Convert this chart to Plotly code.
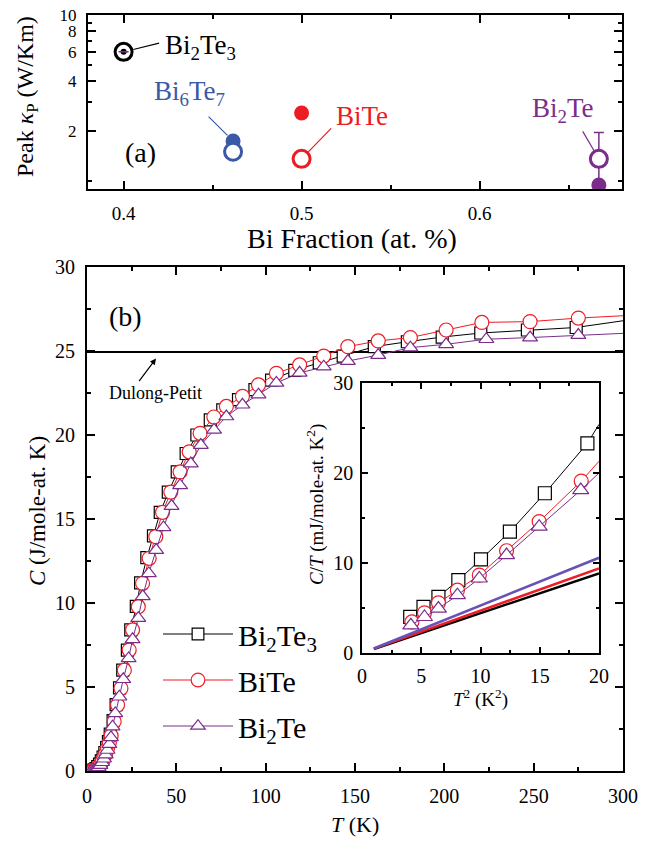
import math
import plotly.graph_objects as go

# ---------------- data ----------------
# panel (a): peak phonon thermal conductivity vs Bi fraction
COMPOUNDS_A = ["Bi<sub>2</sub>Te<sub>3</sub>", "Bi<sub>6</sub>Te<sub>7</sub>", "BiTe", "Bi<sub>2</sub>Te"]
BI_FRAC = [0.4, 0.4615, 0.5, 0.667]
KAPPA_OPEN = [6.0, 1.50, 1.36, 1.36]
KAPPA_FILLED = [6.0, 1.74, 2.57, 0.946]
KAPPA_ERR_PLUS = [None, None, None, 0.60]
KAPPA_ERR_MINUS = [None, None, None, 0.42]
COLORS_A = ["#000000", "#3a5aa8", "#ec1c24", "#7b2d8a"]

# panel (b): heat capacity vs T
T_BI2TE3 = [2.2, 3, 4, 5, 6, 7, 8, 9, 10, 11, 12, 13, 14.6, 16.3, 18.2, 20.0, 22.6, 24.5, 27.6, 30.0,
            33.5, 37.2, 41.0, 45.5, 50.5, 55.5, 61.5, 69, 76, 84.8, 94, 103.3, 116.3, 130, 143.4,
            160.8, 179.3, 198.8, 220.4, 246.5, 273.8, 300]
C_BI2TE3 = [0.01, 0.03, 0.07, 0.15, 0.26, 0.41, 0.6, 0.83, 1.1, 1.4, 1.75, 2.2, 3.0, 3.95, 4.95, 6.0, 7.2,
            8.4, 9.8, 11.2, 12.7, 14.0, 15.4, 16.6, 17.8, 18.9, 20.0, 20.9, 21.5, 22.1, 22.7, 23.27, 23.85,
            24.3, 24.7, 25.26, 25.55, 25.83, 26.07, 26.25, 26.4, 26.8]

T_BITE = [2.5, 3.5, 4.5, 5.5, 6.5, 7.5, 8.5, 9.5, 10.5, 11.5, 12.5, 13.5, 15.2, 17.1, 19.0, 20.9, 23.6,
          25.5, 28.7, 31.1, 34.8, 38.5, 42.3, 46.9, 52.1, 57.2, 63.3, 71, 78, 87, 96, 106, 119, 132.5,
          146, 163, 181, 201, 221, 248, 275, 300]
C_BITE = [0.01, 0.035, 0.08, 0.15, 0.25, 0.39, 0.57, 0.8, 1.06, 1.36, 1.7, 2.1, 2.95, 3.93, 4.92, 6.0,
          7.2, 8.4, 9.78, 11.17, 12.66, 13.95, 15.4, 16.6, 17.8, 19.0, 20.1, 21.07, 21.7, 22.3, 22.98,
          23.67, 24.17, 24.7, 25.26, 25.6, 25.8, 26.25, 26.7, 26.75, 26.96, 27.1]

T_BI2TE = [2.5, 3.5, 4.5, 5.5, 6.5, 7.5, 8.5, 9.5, 10.5, 11.5, 12.5, 13.4, 14.3, 15.8, 18.1, 20.3, 23.3,
           25.5, 28.7, 31.2, 34.6, 38.7, 42.8, 47.3, 52.1, 58.1, 63.7, 71.1, 78, 87, 96, 106, 119,
           132.5, 146, 163, 181, 201, 223.5, 248, 275, 300]
C_BI2TE = [0.01, 0.03, 0.07, 0.13, 0.22, 0.35, 0.52, 0.73, 0.97, 1.25, 1.6, 2.0, 2.64, 3.43, 4.42, 5.46,
           6.7, 7.84, 9.1, 10.4, 11.76, 13.15, 14.5, 15.77, 17.0, 18.3, 19.4, 20.3, 21.1, 21.8, 22.4,
           23.1, 23.7, 24.07, 24.4, 24.76, 25.2, 25.4, 25.7, 25.8, 25.95, 26.05]

DULONG_PETIT = 24.94
DP_T = [0, 300]

# inset: C/T vs T^2
T2_BI2TE3 = [4.07, 5.19, 6.45, 8.13, 10.04, 12.48, 15.43, 19.02, 20.0]
CT_BI2TE3 = [4.01, 5.12, 6.24, 8.1, 10.4, 13.48, 17.75, 23.3, 25.4]
T2_BITE = [4.21, 5.27, 6.45, 8.05, 9.9, 12.2, 14.95, 18.5, 20.0]
CT_BITE = [3.45, 4.46, 5.57, 6.98, 8.65, 11.36, 14.6, 19.1, 21.3]
T2_BI2TE = [4.12, 5.27, 6.45, 8.05, 9.9, 12.2, 14.95, 18.46, 20.0]
CT_BI2TE = [3.08, 4.0, 4.94, 6.42, 8.28, 10.88, 14.04, 18.1, 20.0]
FIT_T2 = [1, 20]
FIT_BI2TE3 = [0.45, 8.84]
FIT_BITE = [0.48, 9.39]
FIT_BI2TE = [0.5, 10.58]

# ---------------- styling ----------------
PAGE_W, PAGE_H = 651, 845
OFF = 8                      # default page margin around the figure div
W, H = PAGE_W - 2 * OFF, PAGE_H - 2 * OFF
SERIF = "Liberation Serif"
BLACK, RED, PURPLE, FITPURPLE = "#000000", "#ee1c24", "#7b2d8a", "#6a52b4"


def px(x):
    return (x - OFF) / W


def py(y):
    return 1 - (y - OFF) / H


def with_end(n, size):
    # marker on every point except the last (line continues to the panel edge)
    return [size] * (n - 1) + [0]


fig = go.Figure()

# ---- panel (a)
fig.add_trace(go.Scatter(
    x=BI_FRAC, y=KAPPA_FILLED, mode="markers", xaxis="x", yaxis="y", showlegend=False,
    marker=dict(symbol="circle", size=[6, 15, 15, 15], color=COLORS_A, opacity=1, line=dict(width=0)),
))
fig.add_trace(go.Scatter(
    x=BI_FRAC, y=KAPPA_OPEN, mode="markers", xaxis="x", yaxis="y", showlegend=False,
    marker=dict(symbol="circle", size=17, opacity=1, color=["rgba(0,0,0,0)", "white", "white", "white"],
                line=dict(width=3, color=COLORS_A)),
    error_y=dict(type="data", array=KAPPA_ERR_PLUS, arrayminus=KAPPA_ERR_MINUS, symmetric=False,
                 color=COLORS_A[3], thickness=1.5, width=5),
))

# ---- panel (b) main
fig.add_trace(go.Scatter(
    x=DP_T, y=[DULONG_PETIT] * len(DP_T), mode="lines", xaxis="x2", yaxis="y2", showlegend=False,
    line=dict(color=BLACK, width=2),
))
series = [
    ("Bi<sub>2</sub>Te<sub>3</sub>", T_BI2TE3, C_BI2TE3, BLACK, "square", 12),
    ("BiTe", T_BITE, C_BITE, RED, "circle", 14),
    ("Bi<sub>2</sub>Te", T_BI2TE, C_BI2TE, PURPLE, "triangle-up", 13),
]
for i, (name, tx, cy, col, sym, sz) in enumerate(series):
    fig.add_trace(go.Scatter(
        x=tx, y=cy, mode="lines+markers", name=name, legendgroup=f"g{i}", xaxis="x2", yaxis="y2",
        line=dict(color=col, width=1),
        marker=dict(symbol=sym, size=with_end(len(tx), sz), opacity=1, color="white",
                    line=dict(color=col, width=1.2)),
    ))

# ---- inset
inset = [
    (T2_BI2TE3, CT_BI2TE3, BLACK, "square", 13),
    (T2_BITE, CT_BITE, RED, "circle", 14),
    (T2_BI2TE, CT_BI2TE, PURPLE, "triangle-up", 14),
]
for tx, cy, col, sym, sz in inset:
    fig.add_trace(go.Scatter(
        x=tx, y=cy, mode="lines+markers", xaxis="x3", yaxis="y3", showlegend=False,
        line=dict(color=col, width=1),
        marker=dict(symbol=sym, size=with_end(len(tx), sz), opacity=1, color="white",
                    line=dict(color=col, width=1.2)),
    ))
for fy, col in [(FIT_BI2TE3, BLACK), (FIT_BITE, RED), (FIT_BI2TE, FITPURPLE)]:
    fig.add_trace(go.Scatter(
        x=FIT_T2, y=fy, mode="lines", xaxis="x3", yaxis="y3", showlegend=False,
        line=dict(color=col, width=2.5),
    ))


def axis(domain, anchor, rng, size=20, tlen=8, mlen=4, lw=2, standoff=6, **kw):
    d = dict(domain=domain, anchor=anchor, range=rng, showline=True, linewidth=lw, linecolor="black",
             mirror="ticks", ticks="inside", ticklen=tlen, tickwidth=1.5, tickcolor="black",
             showgrid=False, zeroline=False, ticklabelstandoff=standoff, automargin=False,
             ticklabeloverflow="allow",
             tickfont=dict(family=SERIF, size=size, color="black"))
    d.update(kw)
    d.setdefault("minor", {})
    d["minor"].update(dict(ticks="inside", ticklen=mlen, tickwidth=1.5, tickcolor="black", showgrid=False))
    return d


fig.update_layout(
    width=W, height=H, autosize=False,
    margin=dict(l=0, r=0, t=0, b=0, pad=0, autoexpand=False),
    paper_bgcolor="white", plot_bgcolor="rgba(0,0,0,0)",
    font=dict(family=SERIF, color="black"),
    xaxis=axis([px(88), px(622)], "y", [0.38, 0.68], size=19, tickvals=[0.4, 0.5, 0.6],
               ticktext=["0.4", "0.5", "0.6"], minor=dict(tickvals=[0.45, 0.55, 0.65])),
    yaxis=axis([py(189), py(15)], "x", [-0.048, 1.0], size=17, type="log",
               tickvals=[2, 4, 6, 8, 10], ticktext=["2", "4", "6", "8", "10"],
               minor=dict(tickvals=[1, 3, 5, 7, 9])),
    xaxis2=axis([px(87), px(623)], "y2", [0, 300], dtick=50, tick0=0, minor=dict(dtick=25)),
    yaxis2=axis([py(771), py(267)], "x2", [0, 30], dtick=5, tick0=0, minor=dict(dtick=2.5)),
    xaxis3=axis([px(362), px(599)], "y3", [0, 20], tlen=6, mlen=3, lw=1.5, standoff=4,
                dtick=5, tick0=0, minor=dict(dtick=2.5)),
    yaxis3=axis([py(653), py(383)], "x3", [0, 30], tlen=6, mlen=3, lw=1.5, standoff=3,
                dtick=10, tick0=0, minor=dict(dtick=5)),
    legend=dict(x=px(158), y=py(608), xanchor="left", yanchor="top", bgcolor="rgba(0,0,0,0)",
                font=dict(family=SERIF, size=30, color="black"), itemwidth=70, tracegroupgap=4,
                traceorder="grouped"),
)

ann = []


def txt(x, y, text, size, color="black", angle=0, xanchor="center"):
    ann.append(dict(x=px(x), y=py(y), xref="paper", yref="paper", text=text, showarrow=False,
                    textangle=angle, xanchor=xanchor, yanchor="middle",
                    font=dict(family=SERIF, size=size, color=color)))


# axis titles
txt(27, 97, "Peak <i>κ</i><sub>P</sub> (W/Km)", 24, angle=-90)
txt(352, 239, "Bi Fraction (at. %)", 28)
txt(37, 511, "<i>C</i> (J/mole-at. K)", 23, angle=-90)
txt(355, 824, "<i>T</i> (K)", 22)
txt(315, 505, "<i>C</i>/<i>T</i> (mJ/mole-at. K<sup>2</sup>)", 19, angle=-90)
txt(480, 698, "<i>T</i><sup>2</sup> (K<sup>2</sup>)", 19)
# panel labels
txt(140, 152, "(a)", 28)
txt(125, 317, "(b)", 28)
txt(155, 393, "Dulong-Petit", 18)
# compound labels in (a)
txt(163, 47, COMPOUNDS_A[0], 27, COLORS_A[0], xanchor="left")
txt(152, 93, COMPOUNDS_A[1], 27, COLORS_A[1], xanchor="left")
txt(334, 116, COMPOUNDS_A[2], 27, COLORS_A[2], xanchor="left")
txt(530, 110, COMPOUNDS_A[3], 27, COLORS_A[3], xanchor="left")

# leader lines from labels to markers (panel a)
leaders = [
    (BI_FRAC[0], KAPPA_OPEN[0], 37, -9, 10, COLORS_A[0]),
    (BI_FRAC[1], KAPPA_FILLED[1], -26, -26, 8, COLORS_A[1]),
    (BI_FRAC[2], KAPPA_OPEN[2], 31, -32, 9, COLORS_A[2]),
    (BI_FRAC[3], KAPPA_OPEN[3], -17, -29, 8, COLORS_A[3]),
]
for x, y, axp, ayp, so, col in leaders:
    ann.append(dict(x=x, y=math.log10(y), xref="x", yref="y", text="", showarrow=True,
                    ax=axp, ay=ayp, arrowhead=0, arrowwidth=1.2, arrowcolor=col, standoff=so))

# Dulong-Petit arrow
ann.append(dict(x=38.6, y=24.55, xref="x2", yref="y2", text="", showarrow=True, ax=-18, ay=24,
                arrowhead=2, arrowsize=1, arrowwidth=1.2, arrowcolor="black"))

fig.update_layout(annotations=ann)
fig.write_html("out.html")
